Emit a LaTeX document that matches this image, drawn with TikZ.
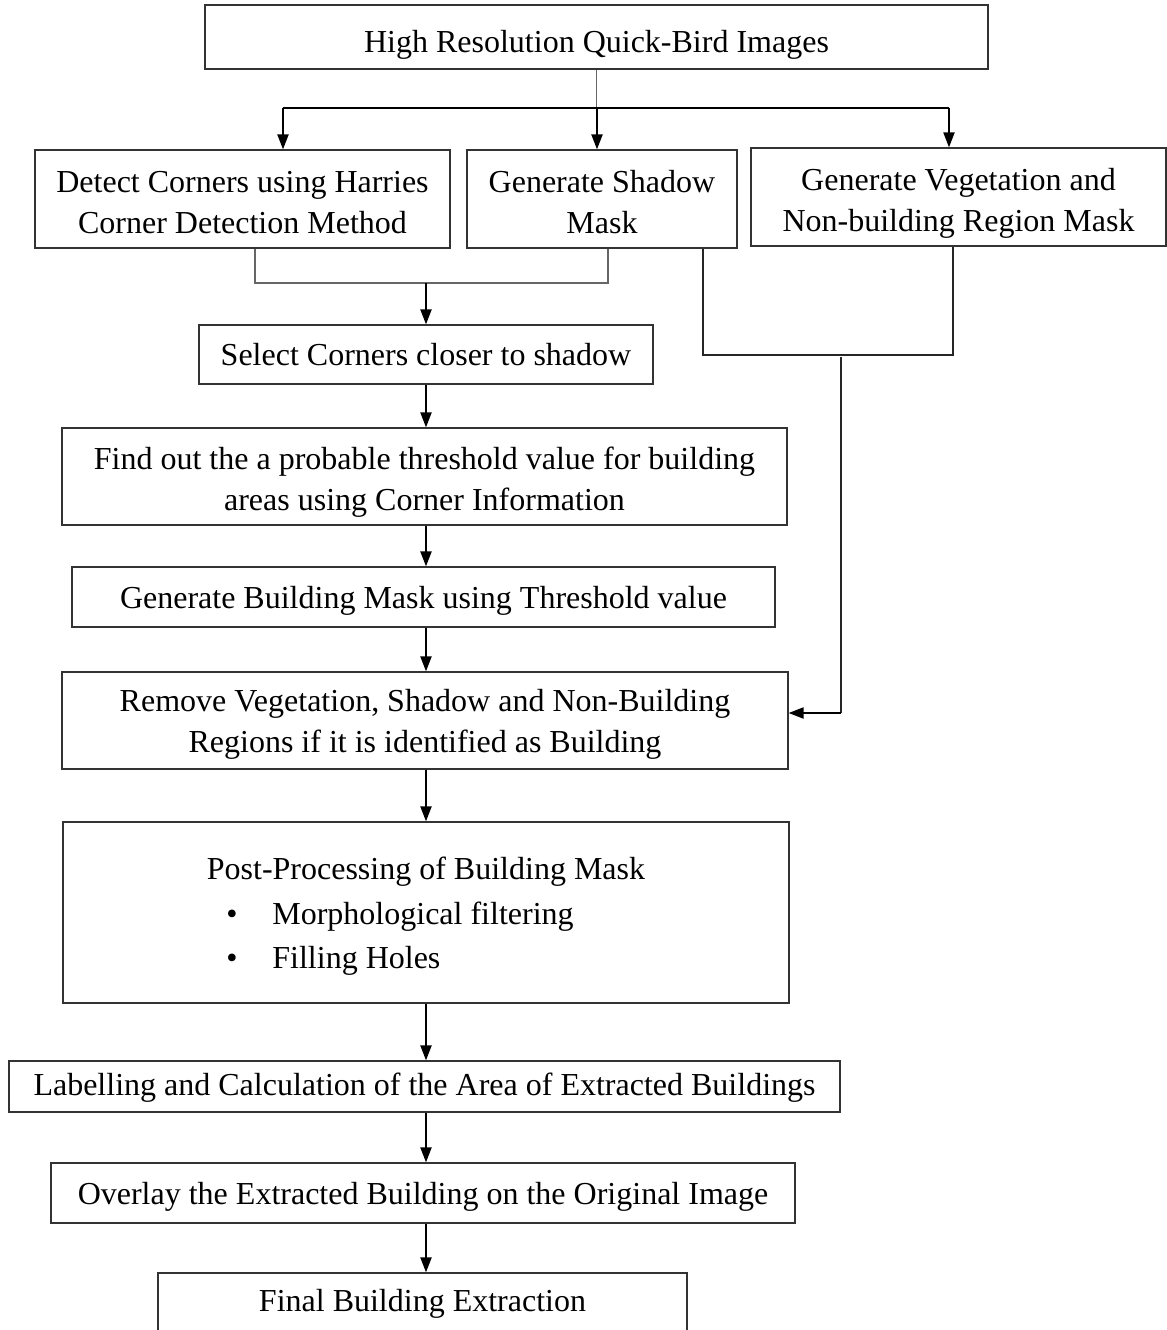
\documentclass[tikz,border=0pt]{standalone}
\usepackage{fontspec}
\setmainfont{Liberation Serif}
\usetikzlibrary{arrows.meta}
% centred lines of text, lowered by #1 without changing the box size
\newcommand\lowered[2]{\raisebox{-#1}[\height][\depth]{\begin{tabular}{@{}c@{}}#2\end{tabular}}}
\begin{document}
\begin{tikzpicture}[x=0.5pt,y=-0.5pt,
  stepbox/.style={draw=black!80,line width=0.6pt,inner sep=0pt,align=center,
    font=\fontsize{16}{20.5}\selectfont},
  txt/.style={inner sep=0pt,font=\fontsize{16}{20.5}\selectfont},
  arr/.style={draw=black,line width=1pt,-{Triangle[length=7.5pt,width=5.5pt]}},
  bar/.style={draw=black,line width=1pt},
  link/.style={draw=black!60,line width=0.6pt},
  link2/.style={draw=black!85,line width=0.8pt}]
\useasboundingbox (0,0) rectangle (1167,1330);

% process boxes
\node[stepbox,minimum width=391.5pt,minimum height=32pt] (top) at (596.5,37)
  {\lowered{3.5pt}{High Resolution Quick-Bird Images}};
\node[stepbox,minimum width=207.5pt,minimum height=49pt] (det) at (242.5,199)
  {\lowered{3pt}{Detect Corners using Harries\\Corner Detection Method}};
\node[stepbox,minimum width=135pt,minimum height=49pt] (shd) at (602,199)
  {\lowered{3pt}{Generate Shadow\\Mask}};
\node[stepbox,minimum width=207.5pt,minimum height=49pt] (veg) at (958.5,197)
  {\lowered{3pt}{Generate Vegetation and\\Non-building Region Mask}};
\node[stepbox,minimum width=227pt,minimum height=29.5pt] (sel) at (426,354.5)
  {\lowered{1.5pt}{Select Corners closer to shadow}};
\node[stepbox,minimum width=362.5pt,minimum height=48.5pt] (thr) at (424.5,476.5)
  {\lowered{2.5pt}{Find out the a probable threshold value for building\\areas using Corner Information}};
\node[stepbox,minimum width=351.5pt,minimum height=30pt] (bm) at (423.5,597)
  {\lowered{1.5pt}{Generate Building Mask using Threshold value}};
\node[stepbox,minimum width=363pt,minimum height=48.5pt] (rem) at (425,720.5)
  {\lowered{1.5pt}{Remove Vegetation, Shadow and Non-Building\\Regions if it is identified as Building}};
\node[stepbox,minimum width=363pt,minimum height=90.5pt] (post) at (426,912.5) {};
\node[txt] (posttitle) at (426,872) {Post-Processing of Building Mask};
\node[txt,anchor=west] (item1) at (226,917)
  {\makebox[23pt][l]{\textbullet}Morphological filtering};
\node[txt,anchor=west] (item2) at (226,961)
  {\makebox[23pt][l]{\textbullet}Filling Holes};
\node[stepbox,minimum width=415.5pt,minimum height=25.5pt] (lab) at (424.5,1086.5)
  {\lowered{0.5pt}{Labelling and Calculation of the Area of Extracted Buildings}};
\node[stepbox,minimum width=372pt,minimum height=30pt] (ovl) at (423,1193)
  {\lowered{1.5pt}{Overlay the Extracted Building on the Original Image}};
\node[stepbox,minimum width=264.5pt,minimum height=33.5pt] (fin) at (422.5,1306.5)
  {\lowered{-1.5pt}{Final Building Extraction}};

% split below the input images
\coordinate (s1) at (283,108);
\coordinate (s2) at (597,108);
\coordinate (s3) at (949,108);
\draw[link] (top.south) -- (top.south |- s2);
\draw[bar] (s1) -- (s3);
\draw[arr] (s1) -- (s1 |- det.north);
\draw[arr] (s2) -- (s2 |- shd.north);
\draw[arr] (s3) -- (s3 |- veg.north);

% corners and shadow merge
\coordinate (j1) at (255,283);
\coordinate (j2) at (608,283);
\coordinate (j3) at (426,283);
\draw[link] (j1 |- det.south) -- (j1) -- (j2) -- (j2 |- shd.south);
\draw[arr] (j3) -- (sel.north);

% shadow and vegetation masks feed the removal step
\coordinate (k1) at (703,355);
\coordinate (k2) at (953,355);
\coordinate (k3) at (841,357);
\coordinate (k4) at (841,713);
\draw[link2] (k1 |- shd.south) -- (k1) -- (k2) -- (k2 |- veg.south);
\draw[link2] (k3) -- (k4);
\draw[arr] (k4) -- (k4 -| rem.east);

% main vertical chain
\coordinate (ax) at (426,0);
\draw[arr] (ax |- sel.south) -- (ax |- thr.north);
\draw[arr] (ax |- thr.south) -- (ax |- bm.north);
\draw[arr] (ax |- bm.south) -- (ax |- rem.north);
\draw[arr] (ax |- rem.south) -- (ax |- post.north);
\draw[arr] (ax |- post.south) -- (ax |- lab.north);
\draw[arr] (ax |- lab.south) -- (ax |- ovl.north);
\draw[arr] (ax |- ovl.south) -- (ax |- fin.north);
\end{tikzpicture}
\end{document}
